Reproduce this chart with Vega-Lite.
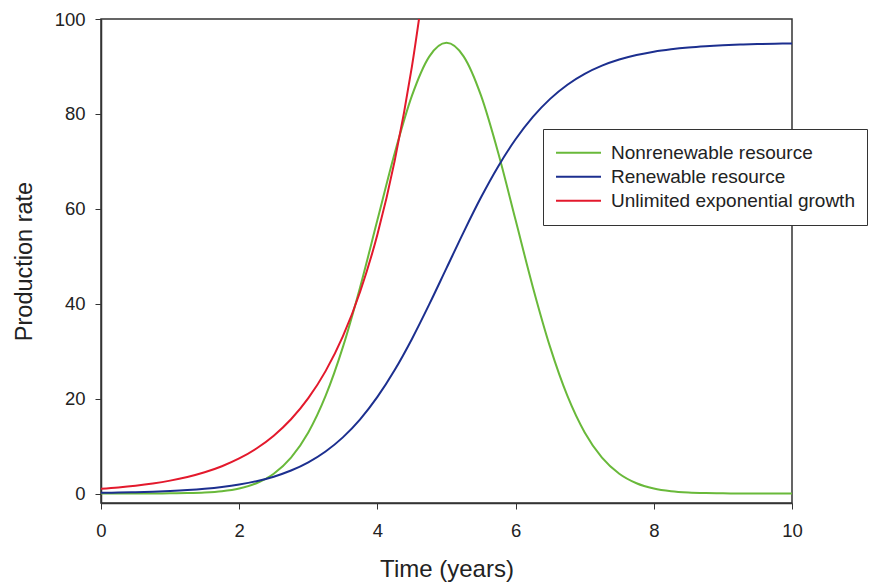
{
  "$schema": "https://vega.github.io/schema/vega-lite/v6.json",
  "autosize": "none",
  "width": 691,
  "height": 484,
  "padding": {"left": 101, "top": 19, "right": 77, "bottom": 82},
  "background": "white",
  "config": {
    "font": "Liberation Sans",
    "view": {"stroke": "#333333", "strokeWidth": 1.5}
  },
  "data": {
    "values": [
      {"t": 0, "v": 0.0, "s": "Nonrenewable resource"},
      {"t": 0.25, "v": 0.001, "s": "Nonrenewable resource"},
      {"t": 0.5, "v": 0.004, "s": "Nonrenewable resource"},
      {"t": 0.75, "v": 0.011, "s": "Nonrenewable resource"},
      {"t": 1, "v": 0.032, "s": "Nonrenewable resource"},
      {"t": 1.25, "v": 0.084, "s": "Nonrenewable resource"},
      {"t": 1.5, "v": 0.208, "s": "Nonrenewable resource"},
      {"t": 1.75, "v": 0.483, "s": "Nonrenewable resource"},
      {"t": 2, "v": 1.055, "s": "Nonrenewable resource"},
      {"t": 2.25, "v": 2.165, "s": "Nonrenewable resource"},
      {"t": 2.5, "v": 4.174, "s": "Nonrenewable resource"},
      {"t": 2.75, "v": 7.558, "s": "Nonrenewable resource"},
      {"t": 3, "v": 12.857, "s": "Nonrenewable resource"},
      {"t": 3.25, "v": 20.55, "s": "Nonrenewable resource"},
      {"t": 3.5, "v": 30.84, "s": "Nonrenewable resource"},
      {"t": 3.75, "v": 43.49, "s": "Nonrenewable resource"},
      {"t": 4, "v": 57.62, "s": "Nonrenewable resource"},
      {"t": 4.25, "v": 71.71, "s": "Nonrenewable resource"},
      {"t": 4.5, "v": 83.84, "s": "Nonrenewable resource"},
      {"t": 4.75, "v": 92.08, "s": "Nonrenewable resource"},
      {"t": 5, "v": 95.0, "s": "Nonrenewable resource"},
      {"t": 5.25, "v": 92.08, "s": "Nonrenewable resource"},
      {"t": 5.5, "v": 83.84, "s": "Nonrenewable resource"},
      {"t": 5.75, "v": 71.71, "s": "Nonrenewable resource"},
      {"t": 6, "v": 57.62, "s": "Nonrenewable resource"},
      {"t": 6.25, "v": 43.49, "s": "Nonrenewable resource"},
      {"t": 6.5, "v": 30.84, "s": "Nonrenewable resource"},
      {"t": 6.75, "v": 20.55, "s": "Nonrenewable resource"},
      {"t": 7, "v": 12.857, "s": "Nonrenewable resource"},
      {"t": 7.25, "v": 7.558, "s": "Nonrenewable resource"},
      {"t": 7.5, "v": 4.174, "s": "Nonrenewable resource"},
      {"t": 7.75, "v": 2.165, "s": "Nonrenewable resource"},
      {"t": 8, "v": 1.055, "s": "Nonrenewable resource"},
      {"t": 8.25, "v": 0.483, "s": "Nonrenewable resource"},
      {"t": 8.5, "v": 0.208, "s": "Nonrenewable resource"},
      {"t": 8.75, "v": 0.084, "s": "Nonrenewable resource"},
      {"t": 9, "v": 0.032, "s": "Nonrenewable resource"},
      {"t": 9.25, "v": 0.011, "s": "Nonrenewable resource"},
      {"t": 9.5, "v": 0.004, "s": "Nonrenewable resource"},
      {"t": 9.75, "v": 0.001, "s": "Nonrenewable resource"},
      {"t": 10, "v": 0.0, "s": "Nonrenewable resource"},

      {"t": 0, "v": 0.143, "s": "Renewable resource"},
      {"t": 0.25, "v": 0.197, "s": "Renewable resource"},
      {"t": 0.5, "v": 0.273, "s": "Renewable resource"},
      {"t": 0.75, "v": 0.377, "s": "Renewable resource"},
      {"t": 1, "v": 0.521, "s": "Renewable resource"},
      {"t": 1.25, "v": 0.72, "s": "Renewable resource"},
      {"t": 1.5, "v": 0.994, "s": "Renewable resource"},
      {"t": 1.75, "v": 1.369, "s": "Renewable resource"},
      {"t": 2, "v": 1.885, "s": "Renewable resource"},
      {"t": 2.25, "v": 2.589, "s": "Renewable resource"},
      {"t": 2.5, "v": 3.546, "s": "Renewable resource"},
      {"t": 2.75, "v": 4.839, "s": "Renewable resource"},
      {"t": 3, "v": 6.57, "s": "Renewable resource"},
      {"t": 3.25, "v": 8.854, "s": "Renewable resource"},
      {"t": 3.5, "v": 11.83, "s": "Renewable resource"},
      {"t": 3.75, "v": 15.63, "s": "Renewable resource"},
      {"t": 4, "v": 20.35, "s": "Renewable resource"},
      {"t": 4.25, "v": 26.02, "s": "Renewable resource"},
      {"t": 4.5, "v": 32.58, "s": "Renewable resource"},
      {"t": 4.75, "v": 39.85, "s": "Renewable resource"},
      {"t": 5, "v": 47.5, "s": "Renewable resource"},
      {"t": 5.25, "v": 55.15, "s": "Renewable resource"},
      {"t": 5.5, "v": 62.42, "s": "Renewable resource"},
      {"t": 5.75, "v": 68.98, "s": "Renewable resource"},
      {"t": 6, "v": 74.65, "s": "Renewable resource"},
      {"t": 6.25, "v": 79.37, "s": "Renewable resource"},
      {"t": 6.5, "v": 83.17, "s": "Renewable resource"},
      {"t": 6.75, "v": 86.15, "s": "Renewable resource"},
      {"t": 7, "v": 88.43, "s": "Renewable resource"},
      {"t": 7.25, "v": 90.16, "s": "Renewable resource"},
      {"t": 7.5, "v": 91.45, "s": "Renewable resource"},
      {"t": 7.75, "v": 92.41, "s": "Renewable resource"},
      {"t": 8, "v": 93.12, "s": "Renewable resource"},
      {"t": 8.25, "v": 93.63, "s": "Renewable resource"},
      {"t": 8.5, "v": 94.01, "s": "Renewable resource"},
      {"t": 8.75, "v": 94.28, "s": "Renewable resource"},
      {"t": 9, "v": 94.48, "s": "Renewable resource"},
      {"t": 9.25, "v": 94.62, "s": "Renewable resource"},
      {"t": 9.5, "v": 94.73, "s": "Renewable resource"},
      {"t": 9.75, "v": 94.8, "s": "Renewable resource"},
      {"t": 10, "v": 94.86, "s": "Renewable resource"},

      {"t": 0, "v": 1.0, "s": "Unlimited exponential growth"},
      {"t": 0.25, "v": 1.284, "s": "Unlimited exponential growth"},
      {"t": 0.5, "v": 1.649, "s": "Unlimited exponential growth"},
      {"t": 0.75, "v": 2.117, "s": "Unlimited exponential growth"},
      {"t": 1, "v": 2.718, "s": "Unlimited exponential growth"},
      {"t": 1.25, "v": 3.49, "s": "Unlimited exponential growth"},
      {"t": 1.5, "v": 4.482, "s": "Unlimited exponential growth"},
      {"t": 1.75, "v": 5.755, "s": "Unlimited exponential growth"},
      {"t": 2, "v": 7.389, "s": "Unlimited exponential growth"},
      {"t": 2.25, "v": 9.488, "s": "Unlimited exponential growth"},
      {"t": 2.5, "v": 12.182, "s": "Unlimited exponential growth"},
      {"t": 2.75, "v": 15.643, "s": "Unlimited exponential growth"},
      {"t": 3, "v": 20.086, "s": "Unlimited exponential growth"},
      {"t": 3.25, "v": 25.79, "s": "Unlimited exponential growth"},
      {"t": 3.5, "v": 33.115, "s": "Unlimited exponential growth"},
      {"t": 3.75, "v": 42.521, "s": "Unlimited exponential growth"},
      {"t": 4, "v": 54.598, "s": "Unlimited exponential growth"},
      {"t": 4.25, "v": 70.105, "s": "Unlimited exponential growth"},
      {"t": 4.5, "v": 90.017, "s": "Unlimited exponential growth"},
      {"t": 4.75, "v": 115.58, "s": "Unlimited exponential growth"}
    ]
  },
  "mark": {"type": "line", "interpolate": "monotone", "strokeWidth": 2, "clip": true},
  "encoding": {
    "x": {
      "field": "t", "type": "quantitative",
      "scale": {"domain": [0, 10], "nice": false, "zero": false},
      "axis": {
        "title": "Time (years)", "values": [0, 2, 4, 6, 8, 10], "grid": false,
        "domainColor": "#333333", "domainWidth": 1.5, "tickColor": "#333333", "tickSize": 6,
        "labelFontSize": 18.5, "labelColor": "#222222", "labelPadding": 12, "labelFlush": false,
        "titleFontSize": 24, "titleFontWeight": "normal", "titleColor": "#222222", "titlePadding": 18
      }
    },
    "y": {
      "field": "v", "type": "quantitative",
      "scale": {"domain": [-2, 100], "nice": false, "zero": false},
      "axis": {
        "title": "Production rate", "values": [0, 20, 40, 60, 80, 100], "grid": false,
        "domainColor": "#333333", "domainWidth": 1.5, "tickColor": "#333333", "tickSize": 6,
        "labelFontSize": 18.5, "labelColor": "#222222", "labelPadding": 10, "labelFlush": false,
        "titleFontSize": 23.5, "titleFontWeight": "normal", "titleColor": "#222222", "titlePadding": 18
      }
    },
    "color": {
      "field": "s", "type": "nominal",
      "scale": {
        "domain": ["Nonrenewable resource", "Renewable resource", "Unlimited exponential growth"],
        "range": ["#69b93a", "#1c2f8f", "#e3192c"]
      },
      "legend": {
        "title": null, "orient": "none", "legendX": 442, "legendY": 110,
        "symbolType": "stroke", "symbolSize": 2025, "symbolStrokeWidth": 2,
        "labelFontSize": 19, "labelColor": "#222222", "labelOffset": 9, "labelLimit": 400,
        "clipHeight": 23.5, "rowPadding": 0, "padding": 12,
        "strokeColor": "#333333", "fillColor": "white"
      }
    }
  }
}
